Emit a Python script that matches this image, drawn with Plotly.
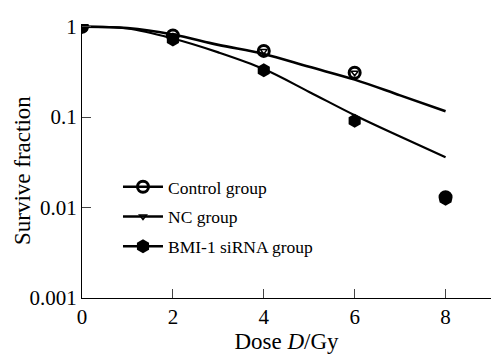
import plotly.graph_objects as go

# Measured survival fractions
dose = [0, 2, 4, 6, 8]
control = [1.0, 0.80, 0.54, 0.31, 0.0130]
nc = [1.0, 0.80, 0.54, 0.31, 0.0130]
bmi1 = [1.0, 0.72, 0.33, 0.091, 0.0125]

# Fitted curves
fit_dose = [0, 1, 2, 3, 4, 5, 6, 7, 8]
fit_control = [1.0, 0.966, 0.82, 0.63, 0.50, 0.36, 0.26, 0.174, 0.116]
fit_bmi1 = [1.0, 0.955, 0.74, 0.52, 0.34, 0.19, 0.105, 0.061, 0.036]

x_ticks = [0, 2, 4, 6, 8]
y_ticks = [0.001, 0.01, 0.1, 1]
y_labels = ["0.001", "0.01", "0.1", "1"]

FONT = "Liberation Serif"


def gapped(xs, ys):
    gx, gy = [], []
    for a, b in zip(xs, ys):
        gx += [a, a]
        gy += [b, None]
    return gx, gy


fig = go.Figure()

# fitted curves
fig.add_trace(go.Scatter(x=fit_dose, y=fit_control, mode="lines", line=dict(color="black", width=2.6, shape="spline"),
                         showlegend=False, hoverinfo="skip"))
fig.add_trace(go.Scatter(x=fit_dose, y=fit_bmi1, mode="lines", line=dict(color="black", width=2.2, shape="spline"),
                         showlegend=False, hoverinfo="skip"))

gx, gy = gapped(dose, nc)
fig.add_trace(go.Scatter(x=gx, y=gy, mode="lines+markers", name="NC group", legendrank=2, legendgroup="nc",
                         connectgaps=False, line=dict(color="black", width=2.5),
                         marker=dict(symbol="triangle-down-open", size=6, color="black", line=dict(width=1.5))))
gx, gy = gapped(dose, control)
fig.add_trace(go.Scatter(x=gx, y=gy, mode="lines+markers", name="Control group", legendrank=1, legendgroup="ctrl",
                         connectgaps=False, line=dict(color="black", width=2.5),
                         marker=dict(symbol="circle-open", size=11, color="black", line=dict(width=3))))
gx, gy = gapped(dose, bmi1)
fig.add_trace(go.Scatter(x=gx, y=gy, mode="lines+markers", name="BMI-1 siRNA group", legendrank=3, legendgroup="bmi",
                         connectgaps=False, line=dict(color="black", width=2.5),
                         marker=dict(symbol="hexagon", size=14, color="black")))

fig.update_layout(
    width=492, height=354,
    margin=dict(l=82, r=1, t=24, b=56),
    paper_bgcolor="white", plot_bgcolor="white",
    font=dict(family=FONT, color="black", size=20),
    showlegend=True,
    legend=dict(x=0.088, y=0.471, xanchor="left", yanchor="top", bgcolor="rgba(0,0,0,0)",
                font=dict(family=FONT, size=17.5), tracegroupgap=4, traceorder="grouped",
                itemwidth=40),
    annotations=[dict(text="Survive fraction", textangle=-90, xref="paper", yref="paper",
                      x=-0.1467, y=0.467, xanchor="center", yanchor="middle", showarrow=False,
                      font=dict(family=FONT, size=23))],
)
fig.update_xaxes(range=[0, 9], tickvals=x_ticks, ticks="inside", ticklen=9, tickwidth=1.3,
                 showline=True, linecolor="black", linewidth=1.3, showgrid=False, zeroline=False,
                 tickfont=dict(size=21), automargin=False,
                 title=dict(text="Dose <i>D</i>/Gy", font=dict(size=23), standoff=2))
fig.update_yaxes(type="log", range=[-3, 0.03], tickvals=y_ticks, ticktext=y_labels, ticks="inside",
                 ticklen=9, tickwidth=1.3, showline=True, linecolor="black", linewidth=1.3,
                 showgrid=False, zeroline=False, tickfont=dict(size=21), automargin=False)

fig.write_html("out.html", post_script="document.body.style.margin='0';",
               config={"displayModeBar": False})
